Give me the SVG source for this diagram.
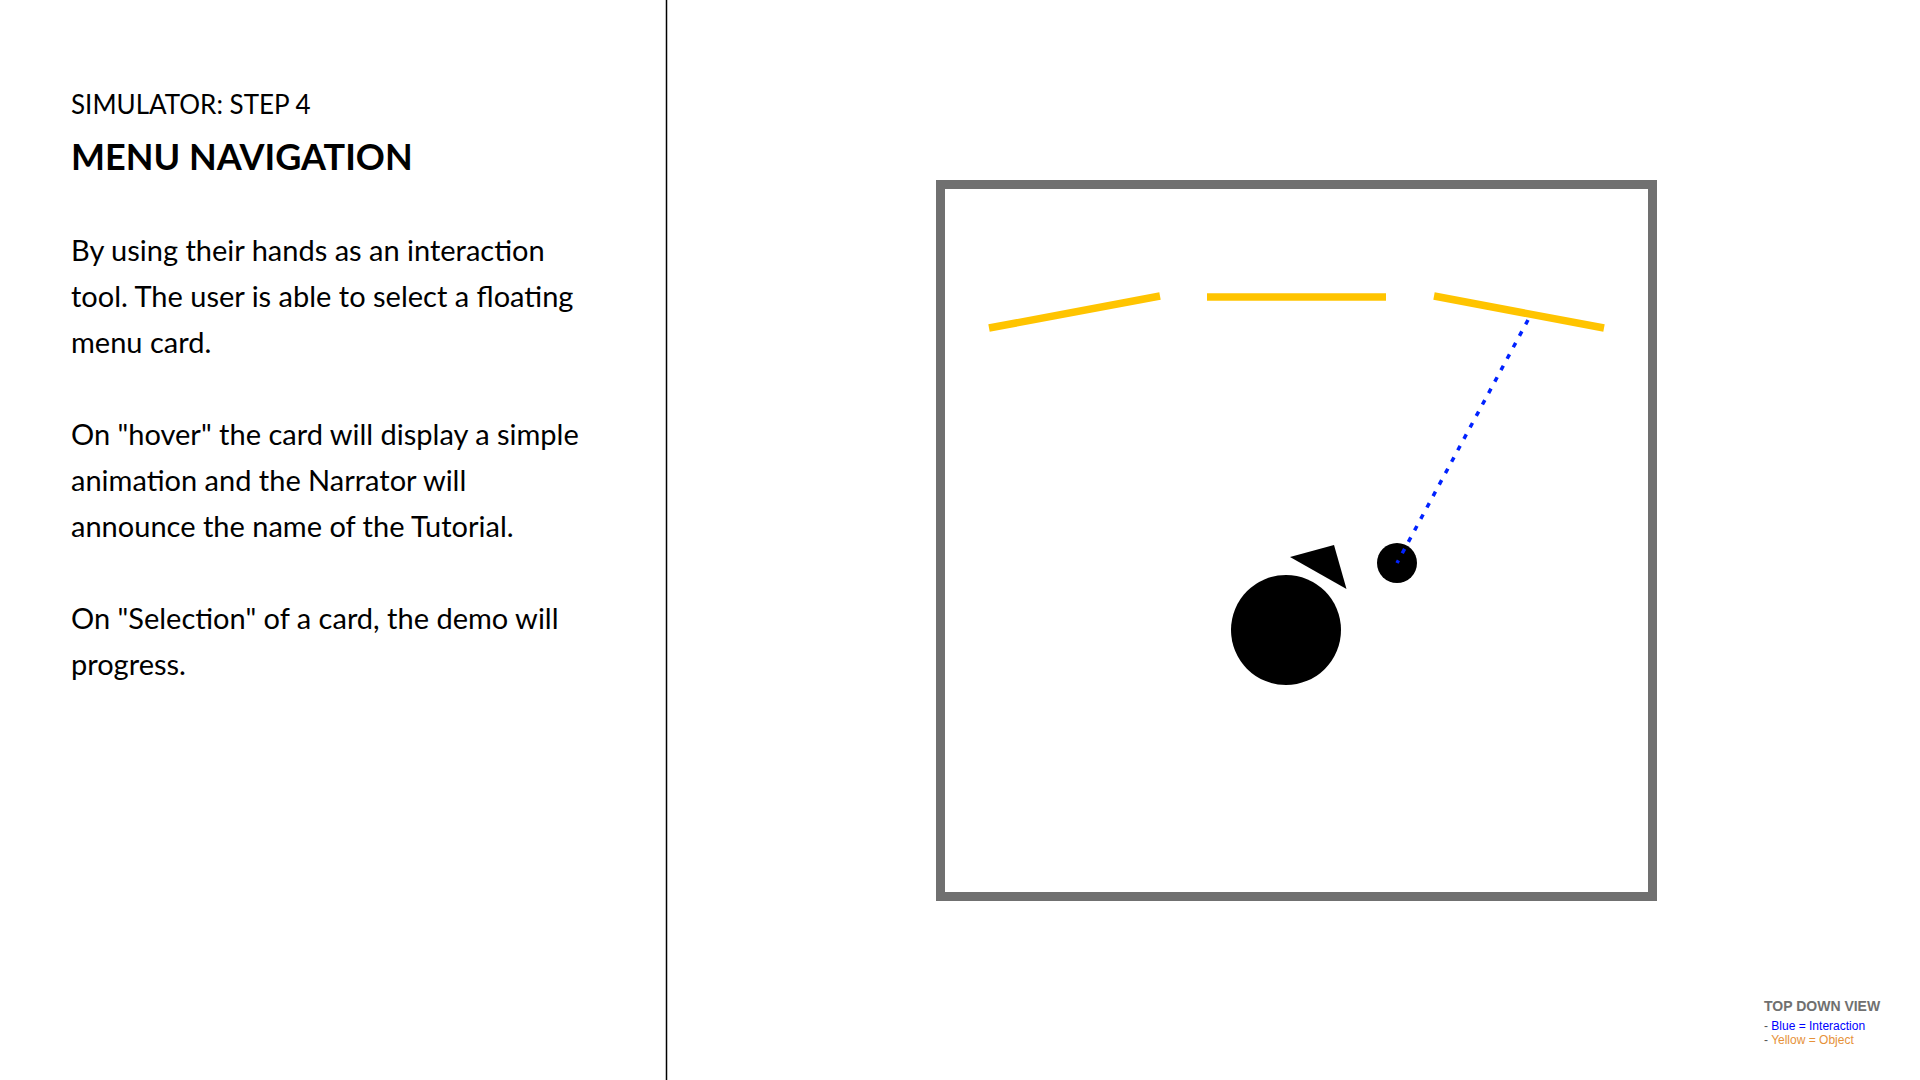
<svg xmlns="http://www.w3.org/2000/svg" width="1920" height="1080" viewBox="0 0 1920 1080">
<style>
.lato{font-family:Lato,"Liberation Sans",sans-serif;fill:#000}
.body{font-size:29px}
.card{stroke:#ffc400;stroke-width:7.5;fill:none}
.leg{font-family:"Liberation Sans",Arial,sans-serif}
</style>
<rect width="1920" height="1080" fill="#fff"/>
<g id="divider"><line x1="666.5" y1="0" x2="666.5" y2="1080" stroke="#000" stroke-width="1.5"/></g>
<g id="text-panel">
<text class="lato" x="71" y="114" font-size="26">SIMULATOR: STEP 4</text>
<text class="lato" x="71" y="170" font-size="36" font-weight="bold">MENU NAVIGATION</text>
<text class="lato body" x="71" y="261">By using their hands as an interaction</text>
<text class="lato body" x="71" y="307">tool. The user is able to select a floating</text>
<text class="lato body" x="71" y="353">menu card.</text>
<text class="lato body" x="71" y="445">On "hover" the card will display a simple</text>
<text class="lato body" x="71" y="491">animation and the Narrator will</text>
<text class="lato body" x="71" y="537">announce the name of the Tutorial.</text>
<text class="lato body" x="71" y="629">On "Selection" of a card, the demo will</text>
<text class="lato body" x="71" y="675">progress.</text>
</g>
<g id="room"><rect x="940.5" y="184.5" width="712" height="712" fill="none" stroke="#707070" stroke-width="9"/></g>
<g id="card-left"><line class="card" x1="989" y1="328" x2="1160" y2="296"/></g>
<g id="card-center"><line class="card" x1="1207" y1="297" x2="1386" y2="297"/></g>
<g id="card-right"><line class="card" x1="1434" y1="296" x2="1604" y2="328"/></g>
<g id="user">
<circle cx="1286" cy="630" r="55" fill="#000"/>
<polygon points="1290,557 1334,545 1346.5,589" fill="#000"/>
</g>
<g id="hand"><circle cx="1397" cy="563" r="20" fill="#000"/></g>
<g id="connectors"><line x1="1528" y1="320" x2="1397" y2="563" stroke="#0022ff" stroke-width="3.5" stroke-dasharray="5 8"/></g>
<g id="legend" class="leg">
<text x="1764" y="1011" font-size="14" font-weight="bold" fill="#707070">TOP DOWN VIEW</text>
<text x="1764" y="1030" font-size="12"><tspan fill="#555">- </tspan><tspan fill="#0000ff">Blue = Interaction</tspan></text>
<text x="1764" y="1044" font-size="12"><tspan fill="#555">- </tspan><tspan fill="#e69138">Yellow = Object</tspan></text>
</g>
</svg>
